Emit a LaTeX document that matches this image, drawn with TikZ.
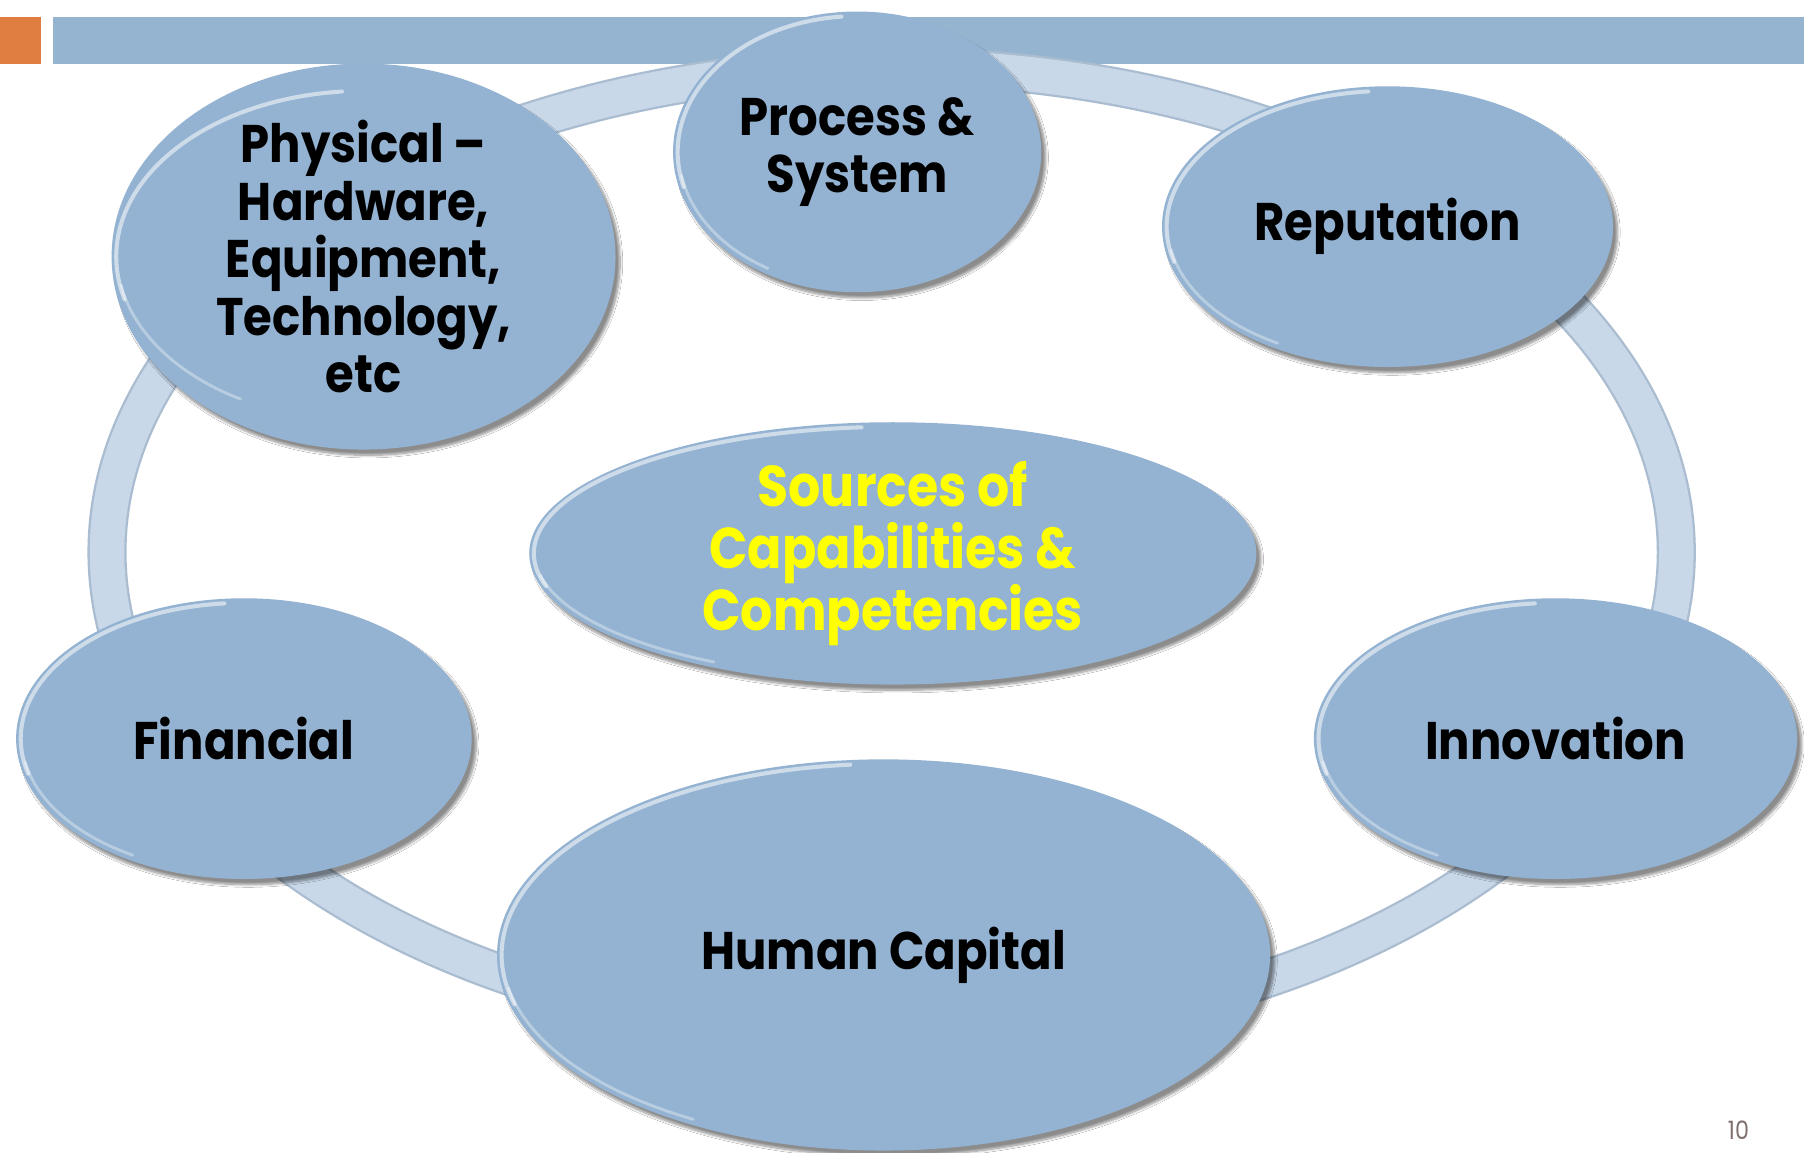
\documentclass[tikz,border=0pt]{standalone}
\usepackage{fontspec}
\setmainfont{Poppins}[FakeStretch=0.88]
\usetikzlibrary{shapes.geometric,shadows.blur}
\definecolor{ovfill}{RGB}{148,179,210}
\definecolor{ringc}{RGB}{200,216,233}
\definecolor{ringedge}{RGB}{170,188,208}
\definecolor{barblue}{RGB}{149,180,208}
\definecolor{orng}{RGB}{224,125,64}
\definecolor{pgnum}{RGB}{128,112,112}
\definecolor{srcyellow}{RGB}{255,255,0}
\tikzset{
  ovalbox/.style={ellipse, fill=ovfill, inner sep=0pt, align=center,
    blur shadow={shadow xshift=4pt, shadow yshift=-5pt, shadow blur steps=8, shadow opacity=45},
    font=\bfseries\fontsize{46}{50}\selectfont},
  hilite/.style={white, opacity=0.55, line width=3.5pt, line cap=round},
  lowlite/.style={white, opacity=0.35, line width=2.5pt, line cap=round},
}
% name, cx, cy, rx, ry, text, extra style
\newcommand\myoval[7]{%
  \node[ovalbox, minimum width=2*#4pt, minimum height=2*#5pt, #7] (#1) at (#2,#3) {#6};
  \draw[hilite] (#2,#3) ++(165:{#4-4} and {#5-4}) arc[start angle=165, end angle=265, x radius=#4-4, y radius=#5-4];
  \draw[lowlite] (#2,#3) ++(120:{#4-5} and {#5-5}) arc[start angle=120, end angle=170, x radius=#4-5, y radius=#5-5];
}
\begin{document}
\begin{tikzpicture}[x=1pt,y=-1pt]
\clip (0,0) rectangle (1568,1002);
\fill[white] (0,0) rectangle (1568,1002);
% top bar
\fill[orng] (0,15) rectangle (36,56);
\fill[barblue] (46,15) rectangle (1568,56);
% ring
\draw[ringedge, line width=34pt] (775,480) ellipse [x radius=682, y radius=422];
\draw[ringc, line width=30pt] (775,480) ellipse [x radius=682, y radius=422];
% ovals
\myoval{phys}{316}{223}{219}{148}{Physical --\\Hardware,\\Equipment,\\Technology,\\etc}{}
\myoval{proc}{745}{132}{160}{122}{Process \&\\System}{}
\myoval{rep}{1206}{197}{196}{122}{Reputation}{}
\myoval{src}{776}{481}{316}{114}{Sources of\\Capabilities \&\\Competencies}{text=srcyellow, font=\bfseries\fontsize{50}{54}\selectfont}
\myoval{fin}{212}{642}{198}{122}{Financial}{}
\myoval{inn}{1352}{642}{210}{122}{Innovation}{}
\myoval{hum}{768}{830}{336}{170}{Human Capital}{}
% page number
\node[anchor=north, text=pgnum, font=\fontsize{22}{24}\selectfont, inner sep=0pt] (pg) at (1511,974) {10};
\end{tikzpicture}
\end{document}
